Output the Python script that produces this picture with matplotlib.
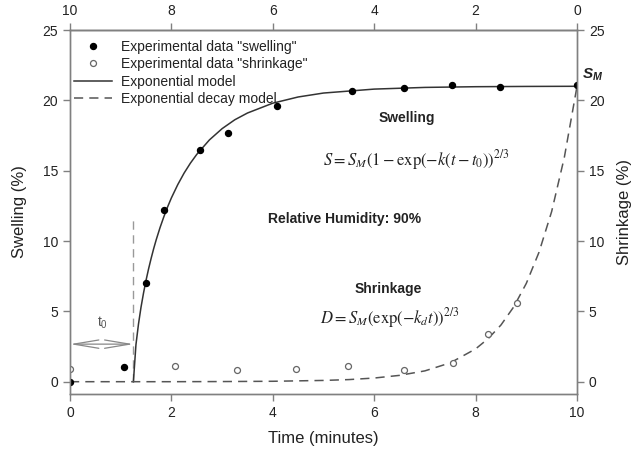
import matplotlib
matplotlib.use("Agg")
import matplotlib.pyplot as plt

plt.rcParams['font.family'] = ['Liberation Sans', 'DejaVu Sans']
plt.rcParams['mathtext.fontset'] = 'stix'

swell_t = [0, 1.07, 1.5, 1.85, 2.56, 3.12, 4.08, 5.56, 6.59, 7.53, 8.48, 9.99]
swell_v = [0, 1.05, 7.0, 12.2, 16.5, 17.7, 19.6, 20.7, 20.85, 21.1, 20.97, 21.1]
shrink_t = [0, 2.07, 3.3, 4.45, 5.49, 6.59, 7.56, 8.24, 8.81]
shrink_v = [0.9, 1.1, 0.8, 0.92, 1.1, 0.83, 1.35, 3.39, 5.6]

# model curves
model_t = [1.25, 1.3, 1.35, 1.4, 1.45, 1.5, 1.55, 1.6, 1.65, 1.7, 1.775, 1.85,
           1.925, 2.0, 2.125, 2.25, 2.375, 2.5, 2.75, 3.0, 3.25, 3.5, 4.0,
           4.5, 5.0, 6.0, 7.0, 8.0, 9.0, 10.0]
model_v = [0, 2.62, 4.09, 5.29, 6.31, 7.22, 8.03, 8.77, 9.46, 10.09, 10.95,
           11.72, 12.43, 13.07, 14.01, 14.83, 15.54, 16.16, 17.19, 17.99, 18.62,
           19.1, 19.8, 20.24, 20.52, 20.8, 20.92, 20.97, 20.99, 21.0]
decay_t = [0, 1, 2, 3, 4, 5, 5.5, 6, 6.5, 7, 7.5, 8, 8.25, 8.5, 8.75, 9,
           9.25, 9.5, 9.75, 10]
decay_v = [0, 0, 0, 0.01, 0.03, 0.09, 0.15, 0.26, 0.45, 0.77, 1.34, 2.33, 3.07,
           4.03, 5.31, 6.99, 9.2, 12.1, 15.95, 21.0]

t0 = 1.25
t0_level = 2.67

xticks = [0, 2, 4, 6, 8, 10]
yticks = [0, 5, 10, 15, 20, 25]

spine_c = '#808080'
txt_c = '#222222'

fig = plt.figure(figsize=(6.32, 4.59), dpi=100)
ax = fig.add_axes([0.1108, 0.1416, 0.8022, 0.793])

ax.plot(model_t, model_v, color='#333333', lw=1.1, label='Exponential model', zorder=3)
ax.plot(decay_t, decay_v, color='#555555', lw=1.1, ls=(0, (6, 4)),
        label='Exponential decay model', zorder=3)
ax.plot(swell_t, swell_v, 'o', color='black', ms=4.3, ls='none',
        label='Experimental data "swelling"', zorder=5)
ax.plot(shrink_t, shrink_v, 'o', mfc='white', mec='#666666', mew=0.9, ms=4.3,
        ls='none', label='Experimental data "shrinkage"', zorder=4)

# t0 marker
ax.plot([t0, t0], [0, 11.55], color='#999999', lw=1.0, ls=(0, (6, 4)), zorder=2)
ax.annotate('', xy=(0, t0_level), xytext=(t0, t0_level),
            arrowprops=dict(arrowstyle='<->,head_length=1.8,head_width=0.3',
                            color='#888888', lw=0.9, shrinkA=0, shrinkB=0))
ax.text(0.65, 4.17, r'$\mathregular{t_0}$', ha='center', va='center',
        fontsize=10, color='#555555')

ax.text(10.1, 21.8, r'$\mathregular{S_M}$', ha='left', va='center',
        fontsize=11, fontweight='bold', fontstyle='italic', color=txt_c)
ax.text(6.65, 18.76, 'Swelling', ha='center', va='center', fontsize=10,
        fontweight='bold', color=txt_c)
ax.text(6.84, 15.75, r'$S = S_M\left(1-\exp(-k(t-t_0)\right)^{2/3}$',
        ha='center', va='center', fontsize=12, color=txt_c)
ax.text(5.41, 11.55, 'Relative Humidity: 90%', ha='center', va='center',
        fontsize=10, fontweight='bold', color=txt_c)
ax.text(6.28, 6.59, 'Shrinkage', ha='center', va='center', fontsize=10,
        fontweight='bold', color=txt_c)
ax.text(6.31, 4.53, r'$D = S_M\left(\exp(-k_d t)\right)^{2/3}$',
        ha='center', va='center', fontsize=12, color=txt_c)

ax.set_xlim(0, 10)
ax.set_ylim(-0.875, 25)
ax.set_xticks(xticks)
ax.set_yticks(yticks)
ax.set_xlabel('Time (minutes)', fontsize=12, color=txt_c, labelpad=8)
ax.set_ylabel('Swelling (%)', fontsize=12, color=txt_c, labelpad=11)

ax2 = ax.twinx()
ax2.set_ylim(ax.get_ylim())
ax2.set_yticks(yticks)
ax2.set_ylabel('Shrinkage (%)', fontsize=12, color=txt_c, labelpad=9)

top = ax.secondary_xaxis('top', functions=(lambda x: 10 - x, lambda x: 10 - x))
top.set_xticks(xticks)

for a in (ax, ax2, top):
    for s in a.spines.values():
        s.set_color(spine_c)
        s.set_linewidth(1.0)
    a.tick_params(direction='out', length=5, width=1.0, color=spine_c,
                  labelsize=10, labelcolor=txt_c)

handles, labels = ax.get_legend_handles_labels()
order = [2, 3, 0, 1]
ax.legend([handles[i] for i in order], [labels[i] for i in order],
          loc='upper left', bbox_to_anchor=(0.0, 0.985), frameon=False,
          fontsize=10, handlelength=2.7, handletextpad=0.7, labelspacing=0.25,
          borderpad=0.2, borderaxespad=0.1, labelcolor=txt_c)

fig.savefig('out.png', dpi=100)
